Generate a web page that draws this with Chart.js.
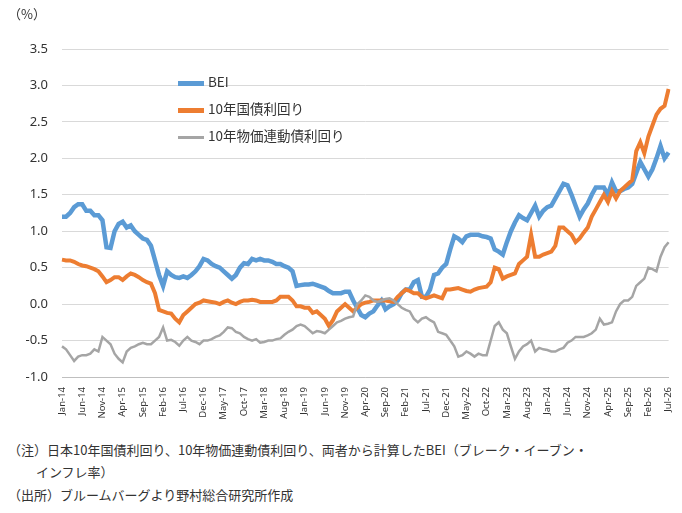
<!DOCTYPE html>
<html>
<head>
<meta charset="utf-8">
<script src="https://cdn.jsdelivr.net/npm/chart.js@4"></script>
<style>
  body { margin: 0; background: #fff; font-family: "Noto Sans CJK JP", sans-serif; }
  #wrap { position: relative; width: 682px; height: 430px; }
  #unit { position: absolute; left: 8px; top: 4px; font-size: 13px; color: #333; }
  #legend { position: absolute; left: 178px; top: 68px; font-size: 13.5px; color: #333; line-height: 27px; }
  #legend span.m { display: inline-block; width: 26px; height: 4px; vertical-align: middle; margin-right: 4px; }
  .note { position: absolute; font-size: 13px; color: #333; }
</style>
</head>
<body>
<div id="wrap">
  <canvas id="chart" width="682" height="430"></canvas>
  <div id="unit">（%）</div>
  <div id="legend">
    <div><span class="m" style="background:#5b9bd5;height:5px"></span>BEI</div>
    <div><span class="m" style="background:#ed7d31;height:5px"></span>10年国債利回り</div>
    <div><span class="m" style="background:#a5a5a5;height:3px"></span>10年物価連動債利回り</div>
  </div>
</div>
<div class="note" style="left:8px;top:440px">（注）日本10年国債利回り、10年物価連動債利回り、両者から計算したBEI（ブレーク・イーブン・</div>
<div class="note" style="left:36px;top:462px">インフレ率）</div>
<div class="note" style="left:8px;top:485px">（出所）ブルームバーグより野村総合研究所作成</div>
<script>
const months = ['Jan','Feb','Mar','Apr','May','Jun','Jul','Aug','Sep','Oct','Nov','Dec']
const labels = []
for (let i = 0; i < 151; i++) {
    labels.push(months[i % 12] + '-' + (14 + Math.floor(i / 12)))
}

const bei = [
    1.2,1.2,1.25,1.33,1.37,1.37,1.28,1.28,1.22,1.22,
    1.15,0.78,0.77,1.0,1.1,1.13,1.05,1.08,1.0,0.95,
    0.9,0.88,0.8,0.6,0.4,0.25,0.45,0.4,0.37,0.36,
    0.38,0.36,0.4,0.45,0.52,0.62,0.6,0.55,0.52,0.5,
    0.45,0.4,0.35,0.4,0.5,0.56,0.55,0.62,0.6,0.62,
    0.6,0.6,0.58,0.55,0.55,0.52,0.5,0.45,0.25,0.26,
    0.27,0.27,0.28,0.26,0.24,0.22,0.18,0.15,0.15,0.15,
    0.17,0.17,0.05,-0.05,-0.15,-0.18,-0.13,-0.1,-0.02,0.05,
    -0.07,-0.03,0.0,0.05,0.15,0.2,0.2,0.3,0.33,0.1,
    0.1,0.2,0.4,0.42,0.5,0.55,0.75,0.93,0.9,0.85,
    0.93,0.95,0.95,0.95,0.93,0.92,0.9,0.75,0.72,0.68,
    0.85,1.0,1.12,1.22,1.18,1.15,1.25,1.35,1.2,1.28,
    1.33,1.35,1.45,1.55,1.65,1.63,1.5,1.35,1.2,1.3,
    1.38,1.5,1.6,1.6,1.6,1.5,1.67,1.55,1.55,1.58,
    1.6,1.65,1.8,1.95,1.85,1.75,1.85,2.0,2.17,2.0,2.08
]

const jgb10 = [
    0.61,0.6,0.6,0.58,0.55,0.53,0.52,0.5,0.48,0.45,
    0.38,0.3,0.33,0.37,0.37,0.33,0.38,0.42,0.4,0.37,
    0.33,0.3,0.28,0.15,-0.08,-0.1,-0.12,-0.13,-0.2,-0.25,
    -0.15,-0.1,-0.05,0.0,0.02,0.05,0.04,0.03,0.02,0.0,
    0.03,0.05,0.02,0.0,0.03,0.05,0.05,0.06,0.05,0.03,
    0.03,0.03,0.03,0.05,0.1,0.1,0.1,0.05,-0.03,-0.03,
    -0.05,-0.05,-0.12,-0.1,-0.15,-0.2,-0.3,-0.22,-0.1,-0.05,
    0.0,-0.05,-0.1,-0.05,0.0,0.02,0.03,0.05,0.05,0.05,
    0.05,0.04,0.03,0.1,0.15,0.2,0.18,0.15,0.15,0.1,
    0.08,0.1,0.12,0.1,0.08,0.2,0.2,0.21,0.22,0.2,
    0.18,0.17,0.2,0.22,0.23,0.24,0.3,0.5,0.48,0.35,
    0.38,0.4,0.42,0.55,0.6,0.65,0.95,0.65,0.65,0.68,
    0.7,0.72,0.8,1.05,1.05,1.0,0.95,0.85,0.9,0.98,
    1.05,1.2,1.3,1.4,1.5,1.4,1.55,1.45,1.55,1.6,
    1.65,1.7,2.1,2.22,2.07,2.3,2.45,2.6,2.68,2.72,2.95
]

const jgbi10 = [
    -0.58,-0.62,-0.7,-0.78,-0.72,-0.7,-0.7,-0.68,-0.62,-0.65,
    -0.45,-0.5,-0.55,-0.68,-0.75,-0.8,-0.65,-0.6,-0.58,-0.55,
    -0.53,-0.55,-0.55,-0.5,-0.45,-0.32,-0.5,-0.49,-0.52,-0.57,
    -0.5,-0.45,-0.5,-0.52,-0.55,-0.5,-0.5,-0.48,-0.45,-0.43,
    -0.38,-0.32,-0.33,-0.38,-0.4,-0.45,-0.48,-0.5,-0.48,-0.53,
    -0.52,-0.5,-0.5,-0.48,-0.47,-0.42,-0.38,-0.35,-0.3,-0.28,
    -0.3,-0.35,-0.4,-0.37,-0.38,-0.4,-0.35,-0.3,-0.25,-0.23,
    -0.2,-0.18,-0.17,0.0,0.05,0.12,0.1,0.05,0.03,0.05,
    0.07,0.08,0.05,0.0,-0.05,-0.08,-0.1,-0.2,-0.25,-0.2,
    -0.18,-0.22,-0.25,-0.38,-0.4,-0.42,-0.5,-0.58,-0.72,-0.7,
    -0.65,-0.68,-0.72,-0.68,-0.7,-0.7,-0.5,-0.3,-0.25,-0.35,
    -0.4,-0.58,-0.75,-0.65,-0.58,-0.55,-0.5,-0.65,-0.6,-0.62,
    -0.63,-0.65,-0.65,-0.62,-0.6,-0.53,-0.5,-0.45,-0.45,-0.45,
    -0.43,-0.4,-0.35,-0.2,-0.28,-0.27,-0.25,-0.1,0.0,0.05,
    0.05,0.1,0.25,0.3,0.35,0.5,0.48,0.45,0.65,0.78,0.85
]

const ctx = document.querySelector('#chart').getContext('2d')
const chart = new Chart(ctx, {
    type: 'line',
    data: {
        labels: labels,
        datasets: [
            { label: '10年物価連動債利回り', data: jgbi10, borderColor: '#a5a5a5', borderWidth: 2.5 },
            { label: '10年国債利回り', data: jgb10, borderColor: '#ed7d31', borderWidth: 4 },
            { label: 'BEI', data: bei, borderColor: '#5b9bd5', borderWidth: 4.5 }
        ]
    },
    options: {
        responsive: false,
        animation: false,
        elements: { point: { radius: 0 }, line: { tension: 0 } },
        layout: { padding: { top: 49, right: 10, left: 0, bottom: 0 } },
        plugins: { legend: { display: false }, tooltip: { enabled: false } },
        scales: {
            x: {
                offset: false,
                grid: { display: false, drawTicks: true },
                border: { color: '#bfbfbf' },
                ticks: {
                    autoSkip: false,
                    maxRotation: 90,
                    minRotation: 90,
                    color: '#333',
                    font: { size: 9.5, family: 'Noto Sans' },
                    padding: 2,
                    callback: function (v, i) { return i % 5 === 0 ? labels[i] : '' }
                },
                afterFit: function (s) { s.height = 53 }
            },
            y: {
                min: -1.0,
                max: 3.5,
                grid: { color: '#d9d9d9', drawTicks: false },
                border: { display: false },
                ticks: {
                    stepSize: 0.5,
                    color: '#333',
                    padding: 14,
                    font: { size: 13, family: 'Noto Sans' },
                    callback: function (v) { return v.toFixed(1) }
                },
                afterFit: function (s) { s.width = 62 }
            }
        }
    }
})
</script>
</body>
</html>
